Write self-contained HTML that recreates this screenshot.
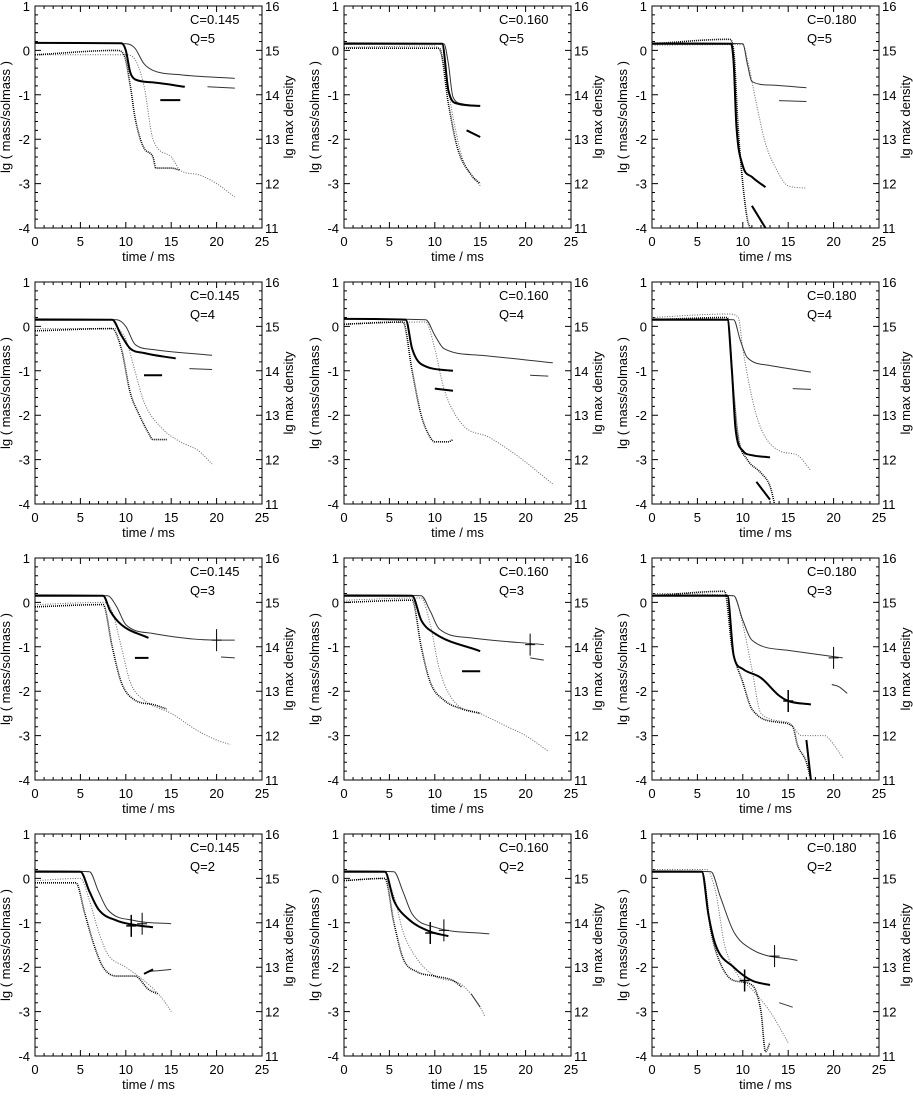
<!DOCTYPE html>
<html><head><meta charset="utf-8">
<style>
html,body{margin:0;padding:0;background:#fff;}
svg text{font-family:"Liberation Sans",sans-serif;fill:#000;}
</style></head>
<body>
<svg id="chart" width="913" height="1091" viewBox="0 0 913 1091" xmlns="http://www.w3.org/2000/svg"></svg>
<script>
// ---- data (left axis units: lg mass/solmass; x: time / ms) ----
const cLabels = ["C=0.145","C=0.160","C=0.180","C=0.145","C=0.160","C=0.180","C=0.145","C=0.160","C=0.180","C=0.145","C=0.160","C=0.180"];
const qLabels = ["Q=5","Q=5","Q=5","Q=4","Q=4","Q=4","Q=3","Q=3","Q=3","Q=2","Q=2","Q=2"];
const xTicks = [0,5,10,15,20,25];
const yTicksLeft = [1,0,-1,-2,-3,-4];
const yTicksRight = [16,15,14,13,12,11];

const thinSolid = [
 [[0,0.17],[10,0.15],[11,0.05],[12,-0.3],[13,-0.45],[16,-0.55],[22,-0.63]],
 [[0,0.17],[11,0.15],[11.5,-0.3],[12,-1.05],[13,-1.2],[15,-1.25]],
 [[0,0.17],[10,0.15],[10.5,-0.3],[11,-0.7],[13,-0.78],[17,-0.84]],
 [[0,0.17],[9,0.15],[10,0],[11,-0.4],[13,-0.52],[19.5,-0.65]],
 [[0,0.17],[9,0.15],[10,-0.2],[11,-0.5],[15,-0.65],[23,-0.82]],
 [[0,0.17],[9,0.15],[9.7,-0.3],[10.5,-0.7],[13,-0.88],[17.5,-1.03]],
 [[0,0.17],[8,0.15],[9,-0.1],[10,-0.5],[13,-0.7],[20,-0.85],[22,-0.85]],
 [[0,0.17],[8.5,0.15],[9.5,-0.2],[10.5,-0.6],[14,-0.8],[22,-0.95]],
 [[0,0.17],[9,0.15],[10,-0.4],[11,-0.85],[15,-1.08],[21,-1.25]],
 [[0,0.17],[6,0.15],[7,-0.3],[8,-0.7],[11,-0.95],[15,-1.02]],
 [[0,0.17],[5.5,0.15],[6.5,-0.3],[7.5,-0.8],[10,-1.1],[16,-1.25]],
 [[0,0.17],[6.5,0.15],[7.5,-0.4],[9,-1.2],[11,-1.6],[16,-1.85]]
];
const thinSeg = [
 [[19,-0.82],[22,-0.85]],[],[[14,-1.13],[17,-1.15]],
 [[17,-0.95],[19.5,-0.97]],[[20.5,-1.1],[22.5,-1.12]],[[15.5,-1.4],[17.5,-1.42]],
 [[20.5,-1.23],[22,-1.25]],[[20.5,-1.25],[22,-1.3]],[[19.8,-1.85],[20.6,-1.9],[21.5,-2.05]],
 [[12.5,-2.1],[13.5,-2.08],[15,-2.05]],[[14,-2.6],[15,-2.9]],[[14,-2.8],[15.5,-2.9]]
];
const thickSolid = [
 [[0,0.17],[9.5,0.16],[10,0],[10.5,-0.5],[11,-0.65],[13,-0.72],[16.5,-0.82]],
 [[0,0.15],[10.8,0.15],[11.5,-0.9],[12.5,-1.2],[15,-1.25]],
 [[0,0.15],[8.7,0.15],[9,-0.3],[9.3,-1.7],[10,-2.6],[11,-2.85],[12.5,-3.08]],
 [[0,0.15],[8.5,0.15],[9.5,-0.2],[10.5,-0.5],[12,-0.6],[15.5,-0.72]],
 [[0,0.17],[6.8,0.15],[7.5,-0.5],[8.5,-0.85],[12,-1.0]],
 [[0,0.15],[8.3,0.15],[8.8,-1],[9.2,-2.3],[10,-2.8],[11,-2.9],[13,-2.95]],
 [[0,0.15],[7.5,0.15],[8.3,-0.2],[9.5,-0.5],[12.5,-0.8]],
 [[0,0.15],[7.5,0.15],[8.5,-0.4],[10,-0.7],[15,-1.1]],
 [[0,0.15],[8.3,0.15],[9,-1.2],[10,-1.5],[12,-1.7],[14,-2.1],[15,-2.22],[17.5,-2.3]],
 [[0,0.15],[5,0.15],[6,-0.3],[7,-0.7],[9,-0.95],[11,-1.05],[13,-1.1]],
 [[0,0.15],[4.5,0.15],[5.5,-0.5],[7,-0.9],[9.5,-1.2],[11.5,-1.3]],
 [[0,0.15],[5.5,0.15],[6.2,-0.8],[7,-1.5],[9,-2],[11,-2.3],[13,-2.4]]
];
const thickSeg = [
 [[13.8,-1.12],[16,-1.12]],[[13.5,-1.8],[15,-1.95]],[[11,-3.5],[12.5,-4.0]],
 [[12,-1.1],[14,-1.1]],[[10,-1.4],[12,-1.45]],[[11.5,-3.5],[13,-3.9]],
 [[11,-1.25],[12.5,-1.25]],[[13,-1.55],[15,-1.55]],[[17,-3.1],[17.5,-4.0]],
 [[12,-2.15],[13,-2.05]],[],[]
];
const thinDotted = [
 [[0,-0.1],[10,-0.1],[11,-0.2],[12,-0.8],[13,-2],[15,-2.4],[16,-2.7],[18,-2.8],[20,-3],[22,-3.3]],
 [[0,0.07],[10,0.1],[11,-0.3],[12,-1.5],[13,-2.4],[14,-2.8],[15,-3.05]],
 [[0,0.12],[10,0.13],[10.5,-0.2],[11.5,-1.2],[12.5,-2.1],[13.5,-2.6],[15,-3.05],[17,-3.1]],
 [[0,-0.05],[9,-0.05],[10,-0.3],[11,-1],[12,-1.7],[14,-2.3],[16,-2.6],[18,-2.8],[19.5,-3.1]],
 [[0,0.05],[9,0.1],[10,-0.5],[11,-1.4],[13,-2.2],[16,-2.5],[19,-2.9],[23,-3.55]],
 [[0,0.2],[8.5,0.28],[9.5,0.2],[10,-0.5],[11,-1.6],[12,-2.3],[14,-2.8],[16,-2.9],[17.5,-3.25]],
 [[0,-0.05],[7.5,0],[8.5,-0.2],[9.5,-1],[10.5,-1.8],[12,-2.2],[15,-2.5],[18,-2.9],[20,-3.1],[21.5,-3.2]],
 [[0,0.05],[8.5,0.1],[9.5,-0.5],[10.5,-1.5],[12,-2.2],[15,-2.5],[18,-2.8],[20,-3],[22.5,-3.35]],
 [[0,0.2],[9,0.15],[10,-0.5],[11,-1.5],[12,-2.5],[15,-2.7],[16.5,-3.0],[19,-3.0],[20,-3.2],[21,-3.5]],
 [[0,-0.05],[5,0],[6,-0.5],[7,-1.2],[8,-1.7],[10,-2],[12,-2.3],[14,-2.7],[15,-3]],
 [[0,-0.05],[4.5,0],[5.5,-0.4],[6.5,-1.2],[8,-1.8],[10,-2.2],[13,-2.4],[15,-2.9],[15.5,-3.1]],
 [[0,0.2],[6,0.2],[7,-0.3],[8,-1.5],[9.5,-2.2],[11,-2.5],[13,-3],[15,-3.7]]
];
const thickDotted = [
 [[0,-0.1],[9,0],[9.8,-0.1],[10.5,-0.8],[11,-1.5],[12,-2.2],[13,-2.4],[13.3,-2.65],[15,-2.65],[16,-2.7]],
 [[0,0.05],[10.5,0.05],[11.5,-1.2],[12.5,-2.2],[14,-2.8],[15,-3]],
 [[0,0.15],[8.5,0.25],[9,0],[9.5,-1.8],[10,-3],[10.5,-3.8],[10.8,-4.0]],
 [[0,-0.1],[8.5,-0.05],[9.5,-0.5],[10.5,-1.5],[11.5,-2],[12.5,-2.4],[13,-2.55],[14.5,-2.55]],
 [[0,0.05],[6.5,0.1],[7.5,-1],[8.5,-2],[9.5,-2.5],[10,-2.6],[11.5,-2.6],[12,-2.55]],
 [[0,0.15],[8.3,0.2],[9,-1.5],[9.5,-2.5],[10.5,-3],[12,-3.3],[13,-3.6],[13.5,-4.0]],
 [[0,-0.1],[7.5,-0.05],[8.5,-1],[9.5,-1.8],[11,-2.2],[13,-2.3],[14.5,-2.4]],
 [[0,0],[7.5,0.05],[8.5,-1],[9.5,-1.8],[11,-2.2],[13,-2.4],[15,-2.5]],
 [[0,0.15],[8,0.25],[8.8,-1],[10,-1.8],[11,-2.4],[14,-2.7],[15.5,-2.8],[16,-3.2],[17,-3.6],[17.5,-4]],
 [[0,-0.1],[4.5,-0.1],[5.5,-0.8],[6.5,-1.5],[7.5,-2],[9,-2.2],[11,-2.2],[12.5,-2.5],[13.5,-2.6]],
 [[0,-0.05],[4.5,0],[5.5,-1],[6.5,-1.8],[8,-2.1],[10,-2.2],[12,-2.3],[13,-2.45]],
 [[0,0.15],[5.5,0.15],[6.5,-1.2],[7.5,-1.9],[9,-2.3],[11,-2.4],[12,-3],[12.5,-3.9],[13,-3.7]]
];
const thinCross = [null,null,null,null,null,null,[20,-0.85],[20.5,-0.95],[20,-1.25],[11.8,-1.02],[11,-1.17],[13.5,-1.75]];
const thickCross = [null,null,null,null,null,null,null,null,[15,-2.22],[10.6,-1.07],[9.5,-1.23],[10.2,-2.3]];

// ---- layout ----
const NS="http://www.w3.org/2000/svg";
const svg=document.getElementById('chart');
const colLeft=[35,344,652], rowTop=[6,282,558,834], PW=227, PH=222;
function mk(tag,attrs,parent){const e=document.createElementNS(NS,tag);for(const k in attrs)e.setAttribute(k,attrs[k]);(parent||svg).appendChild(e);return e;}

// monotone cubic path through pixel points
function smoothPath(P){
  const n=P.length;
  if(n<3)return P.map((q,i)=>(i?'L':'M')+q[0].toFixed(1)+','+q[1].toFixed(1)).join('');
  const dx=[],s=[];
  for(let i=0;i<n-1;i++){dx.push(P[i+1][0]-P[i][0]);s.push(dx[i]?(P[i+1][1]-P[i][1])/dx[i]:0);}
  const m=[s[0]];
  for(let i=1;i<n-1;i++){m.push(s[i-1]*s[i]<=0?0:(s[i-1]+s[i])/2);}
  m.push(s[n-2]);
  for(let i=0;i<n-1;i++){
    if(s[i]===0){m[i]=0;m[i+1]=0;continue;}
    const a=m[i]/s[i],b=m[i+1]/s[i],h=a*a+b*b;
    if(h>9){const t=3/Math.sqrt(h);m[i]=t*a*s[i];m[i+1]=t*b*s[i];}
  }
  let d='M'+P[0][0].toFixed(1)+','+P[0][1].toFixed(1);
  for(let i=0;i<n-1;i++){
    const h=dx[i]/3;
    d+=`C${(P[i][0]+h).toFixed(1)},${(P[i][1]+m[i]*h).toFixed(1)} ${(P[i+1][0]-h).toFixed(1)},${(P[i+1][1]-m[i+1]*h).toFixed(1)} ${P[i+1][0].toFixed(1)},${P[i+1][1].toFixed(1)}`;
  }
  return d;
}

for(let p=0;p<12;p++){
  const L=colLeft[p%3], T=rowTop[Math.floor(p/3)];
  const xs=t=>L+t/25*PW, ys=v=>T+(1-v)/5*PH;
  const g=mk('g',{});
  
  
  const box=mk('rect',{x:L,y:T,width:PW,height:PH,fill:'none',stroke:'#000','stroke-width':1},g);
  
  
  let d='';
  for(let t=0;t<=25;t++){const x=xs(t);const len=t%5==0?6:3;d+=`M${x},${T+PH}v${-len}M${x},${T}v${len}`;}
  for(let i=0;i<=25;i++){const v=1-i*0.2;const y=ys(v);const len=i%5==0?6:3;d+=`M${L},${y}h${len}M${L+PW},${y}h${-len}`;}
  const tk=mk('path',{d:d,stroke:'#000','stroke-width':1,fill:'none'},g);
  
  
  xTicks.forEach(t=>{const e=mk('text',{x:xs(t),y:T+PH+18,'font-size':13,'text-anchor':'middle'},g);e.textContent=t;
    
    });
  yTicksLeft.forEach((v,i)=>{const e=mk('text',{x:L-5,y:ys(v)+5,'font-size':13,'text-anchor':'end'},g);e.textContent=v;
    
    
    const r=mk('text',{x:L+PW+3,y:ys(v)+5,'font-size':13,'text-anchor':'start'},g);r.textContent=yTicksRight[i];
    
    });
  const xt=mk('text',{x:L+PW/2,y:T+PH+33,'font-size':13,'text-anchor':'middle'},g);xt.textContent='time / ms';
  
  
  const yl=mk('text',{transform:`translate(${L-25},${T+PH/2}) rotate(-90)`,'font-size':13,'text-anchor':'middle'},g);yl.textContent='lg ( mass/solmass )';
  
  
  const yr=mk('text',{transform:`translate(${L+PW+31},${T+PH/2}) rotate(-90)`,'font-size':13,'text-anchor':'middle'},g);yr.textContent='lg max density';
  
  
  const c=mk('text',{x:L+155,y:T+18,'font-size':13},g);c.textContent=cLabels[p];
  
  
  const q=mk('text',{x:L+155,y:T+37,'font-size':13},g);q.textContent=qLabels[p];
  
  
  const clipId='clip'+p;
  const cp=mk('clipPath',{id:clipId},g);mk('rect',{x:L,y:T,width:PW,height:PH},cp);
  const dg=mk('g',{'clip-path':`url(#${clipId})`},g);
  const line=(pts,st,name)=>{if(!pts||!pts.length)return;
    const e=mk('path',Object.assign({d:smoothPath(pts.map(q=>[xs(q[0]),ys(q[1])])),fill:'none'},st),dg);
    
    };
  line(thinDotted[p],{stroke:'#666','stroke-width':1,'stroke-dasharray':'1 1.5'},'thin-dotted-series');
  line(thickDotted[p],{stroke:'#000','stroke-width':1.6,'stroke-dasharray':'1 1'},'thick-dotted-series');
  line(thinSolid[p],{stroke:'#333','stroke-width':1},'thin-solid-series');
  line(thinSeg[p],{stroke:'#333','stroke-width':1},'thin-segment');
  line(thickSolid[p],{stroke:'#000','stroke-width':2},'thick-solid-series');
  line(thickSeg[p],{stroke:'#000','stroke-width':2},'thick-segment');
  const cross=(pt,w,name)=>{if(!pt)return;const x=xs(pt[0]),y=ys(pt[1]);const e=mk('path',{d:`M${x},${y-11}V${y+11}M${x-5},${y}H${x+5}`,stroke:'#000','stroke-width':w},dg);
    
    };
  cross(thinCross[p],1,'thin-cross-marker');
  cross(thickCross[p],1.5,'thick-cross-marker');
}
</script>
</body></html>
